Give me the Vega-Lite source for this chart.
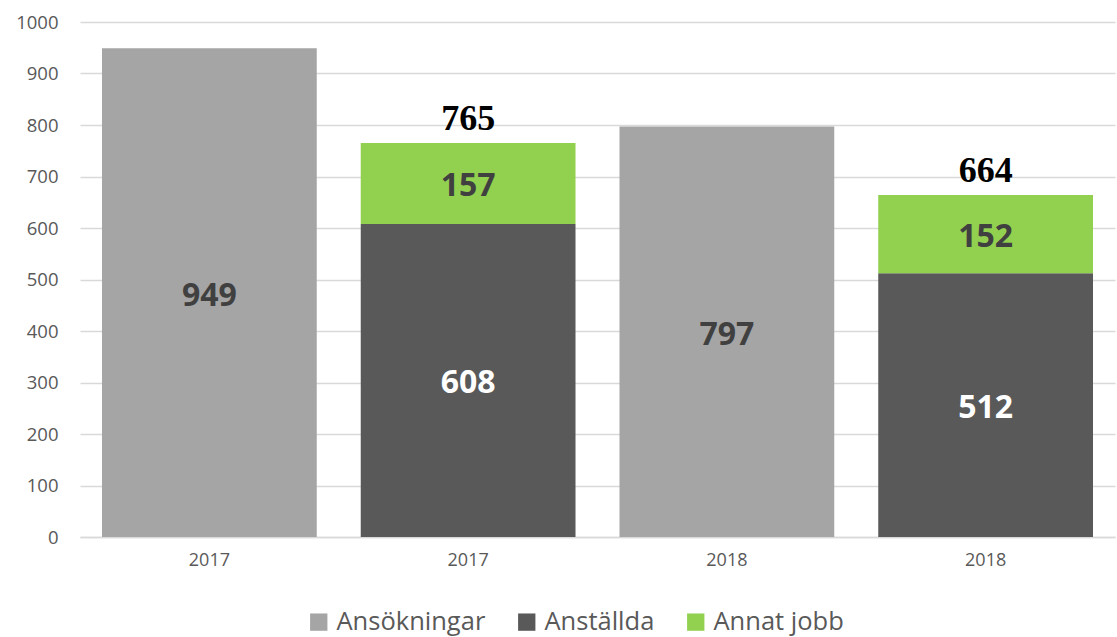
{
  "$schema": "https://vega.github.io/schema/vega-lite/v6.json",
  "width": 1035,
  "height": 515,
  "autosize": "none",
  "padding": {"left": 80, "top": 22, "right": 2, "bottom": 100},
  "background": "white",
  "config": {
    "view": {"stroke": null},
    "font": "Open Sans"
  },
  "data": {
    "values": [
      {"bar": "2017 A", "series": "Ansökningar", "order": 1, "value": 949},
      {"bar": "2017 B", "series": "Anställda", "order": 2, "value": 608},
      {"bar": "2017 B", "series": "Annat jobb", "order": 3, "value": 157},
      {"bar": "2018 A", "series": "Ansökningar", "order": 1, "value": 797},
      {"bar": "2018 B", "series": "Anställda", "order": 2, "value": 512},
      {"bar": "2018 B", "series": "Annat jobb", "order": 3, "value": 152}
    ]
  },
  "layer": [
    {
      "mark": {"type": "bar"},
      "encoding": {
        "x": {
          "field": "bar", "type": "nominal", "sort": null,
          "scale": {"paddingInner": 0.17, "paddingOuter": 0.085},
          "axis": {
            "title": null, "labelExpr": "slice(datum.value, 0, 4)", "labelAngle": 0,
            "labelFontSize": 18, "labelColor": "#595959", "labelPadding": 14,
            "ticks": false, "domain": true, "domainColor": "#d9d9d9", "domainWidth": 1.5
          }
        },
        "y": {
          "field": "value", "type": "quantitative", "aggregate": "sum",
          "scale": {"domain": [0, 1000]},
          "axis": {
            "title": null, "values": [0,100,200,300,400,500,600,700,800,900,1000], "format": "d",
            "labelFontSize": 18.5, "labelColor": "#595959", "labelPadding": 22,
            "ticks": false, "domain": false, "gridColor": "#d9d9d9", "gridWidth": 1.5
          }
        },
        "color": {
          "field": "series", "type": "nominal",
          "scale": {"domain": ["Ansökningar", "Anställda", "Annat jobb"], "range": ["#a5a5a5", "#595959", "#92d050"]},
          "legend": {
            "title": null, "orient": "none", "direction": "horizontal",
            "legendX": 226, "legendY": 587,
            "symbolType": "square", "symbolSize": 300, "symbolStrokeWidth": 0,
            "labelFontSize": 25.5, "labelColor": "#595959", "labelOffset": 5,
            "columnPadding": 28
          }
        },
        "order": {"field": "order", "type": "quantitative"}
      }
    },
    {
      "transform": [
        {"stack": "value", "groupby": ["bar"], "sort": [{"field": "order"}], "as": ["y0", "y1"]},
        {"fold": ["y0", "y1"], "as": ["k", "v"]}
      ],
      "mark": {"type": "text", "fontSize": 32, "fontWeight": "bold", "baseline": "middle", "align": "center", "font": "Open Sans", "dy": 3},
      "encoding": {
        "x": {"field": "bar", "type": "nominal", "sort": null},
        "y": {"field": "v", "type": "quantitative", "aggregate": "mean"},
        "detail": {"field": "series", "type": "nominal"},
        "text": {"field": "value", "type": "quantitative"},
        "color": {
          "condition": {"test": "datum.series === 'Anställda'", "value": "#ffffff"},
          "value": "#404040"
        }
      }
    },
    {
      "transform": [{"filter": "datum.series !== 'Ansökningar'"}],
      "mark": {"type": "text", "fontSize": 36, "fontWeight": "bold", "font": "Liberation Serif", "baseline": "alphabetic", "dy": -13, "color": "#000000"},
      "encoding": {
        "x": {"field": "bar", "type": "nominal", "sort": null},
        "y": {"field": "value", "type": "quantitative", "aggregate": "sum"},
        "text": {"field": "value", "type": "quantitative", "aggregate": "sum"}
      }
    }
  ]
}
